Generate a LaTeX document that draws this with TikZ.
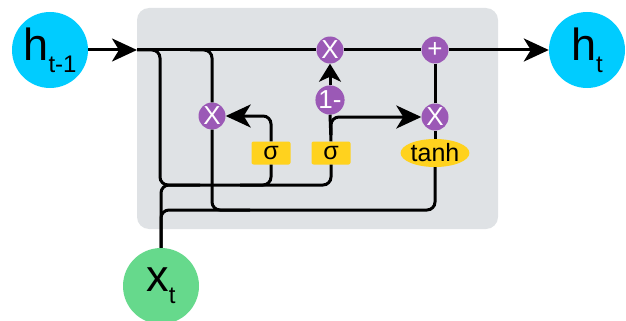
\documentclass[tikz,border=0pt]{standalone}
\usepackage{fontspec}
\setmainfont{Liberation Sans}
\usetikzlibrary{arrows.meta,shapes.geometric}
\definecolor{stateblue}{RGB}{0,204,255}
\definecolor{inputgreen}{RGB}{102,217,140}
\definecolor{oppurple}{RGB}{155,89,182}
\definecolor{gateyellow}{RGB}{255,210,30}
\definecolor{cellgray}{RGB}{223,226,229}
\newcommand{\lowsub}[1]{\raisebox{-12pt}{\fontsize{24}{24}\selectfont #1}}

\begin{document}
\begin{tikzpicture}[x=1pt, y=-1pt,
	wire/.style={line width=3pt},
	flow/.style={-{Stealth[length=25pt 0, width=23pt 0, inset=7pt 0]}},
	state/.style={circle, inner sep=0pt, minimum size=76pt, fill=#1, font=\fontsize{45}{45}\selectfont},
	op/.style={circle, inner sep=0pt, minimum size=27pt, fill=oppurple, text=white, font=\fontsize{26}{26}\selectfont},
	gatebox/.style={rectangle, inner sep=0pt, minimum width=39pt, minimum height=23pt, rounded corners=2pt, fill=gateyellow, font=\fontsize{25}{25}\selectfont}]
	\useasboundingbox (0,0) rectangle (626,321);
	% cell background
	\fill[cellgray, rounded corners=12pt] (137,8) rectangle (498,229);
	% states
	\node[state=stateblue] (ht1) at (50,50) {h\lowsub{t-1}};
	\node[state=stateblue] (ht) at (587,50) {h\lowsub{t}};
	\node[state=inputgreen] (xt) at (161,286) {x\lowsub{t}};
	% pointwise operations
	\node[op] (mulz) at (330,50) {X};
	\node[op] (add) at (435,50) {+};
	\node[op] (mulr) at (212,116) {X};
	\node[op] (oneminus) at (330,100) {1-};
	\node[op] (mulh) at (435,117) {X};
	% gates
	\node[gatebox] (gater) at (271,153) {σ};
	\node[gatebox] (gatez) at (331,153) {σ};
	\node[ellipse, inner sep=0pt, minimum width=68pt, minimum height=28pt, fill=gateyellow, font=\fontsize{25}{25}\selectfont] (tanh) at (435,153) {tanh};
	% junction points
	\coordinate (cellin) at (137,50);
	\coordinate (gatebus) at (160,185);
	\coordinate (tanhbus) at (300,210);
	\coordinate (zsplit) at (331,135);
	% top line
	\draw[wire, flow] (ht1.east) -- (cellin);
	\draw[wire] (cellin) -- (mulz.west);
	\draw[wire] (mulz.east) -- (add.west);
	\draw[wire, flow] (add.east) -- (ht.west);
	% inputs to the gates
	\draw[wire, rounded corners=8pt] (cellin) -| (gatebus) -| (gatez.south);
	\draw[wire, rounded corners=8pt] (gater.south) |- (240,185);
	\draw[wire, rounded corners=8pt] (xt.north) |- (200,185);
	% candidate path
	\draw[wire, rounded corners=8pt] (190,50) -| (mulr.north);
	\draw[wire, rounded corners=8pt] (mulr.south) |- (250,210);
	\draw[wire, rounded corners=8pt] (xt.north) |- (tanhbus) -| (tanh.south);
	% gate outputs
	\draw[wire, flow, rounded corners=8pt] (gater.north) |- (mulr.east);
	\draw[wire] (gatez.north) -- (oneminus.south);
	\draw[wire, -{Stealth[length=18pt 0, width=22pt 0, inset=5pt 0]}] (oneminus.north) -- (mulz.south);
	\draw[wire, flow, rounded corners=8pt] (zsplit) |- (mulh.west);
	\draw[wire] (tanh.north) -- (mulh.south);
	\draw[wire] (mulh.north) -- (add.south);
\end{tikzpicture}
\end{document}
